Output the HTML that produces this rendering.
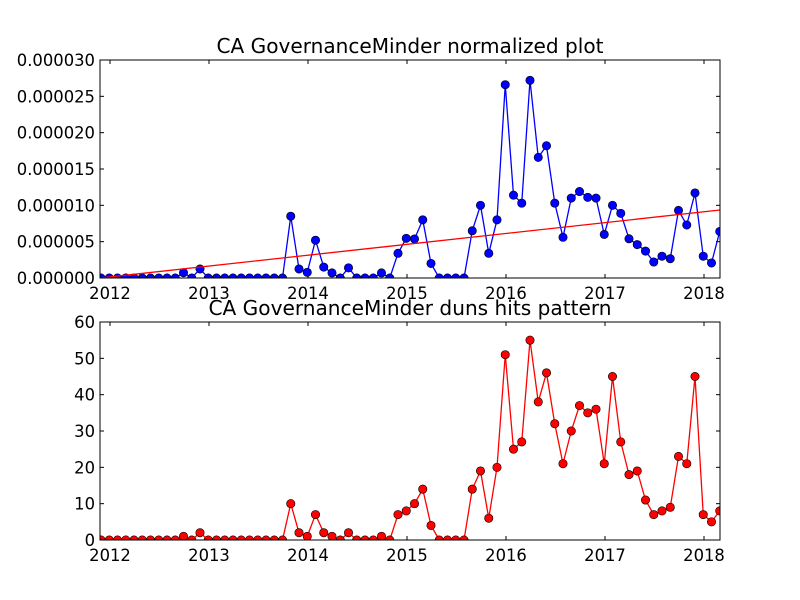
<!DOCTYPE html>
<html><head><meta charset="utf-8"><style>
html,body{margin:0;padding:0;background:#fff;}
svg{display:block;font-family:"DejaVu Sans","Liberation Sans",sans-serif;}
</style></head><body>
<svg id="chart" width="800" height="600" viewBox="0 0 800 600" xmlns="http://www.w3.org/2000/svg">
<rect width="800" height="600" fill="#fff"/>
</svg>
<script>
const yearLabels = ["2012","2013","2014","2015","2016","2017","2018"];
const normTickLabels = ["0.000000","0.000005","0.000010","0.000015","0.000020","0.000025","0.000030"];
const normTickValues = [0,5,10,15,20,25,30];
const hitTickValues = [0,10,20,30,40,50,60];
// normalized values (units of 1e-6), monthly
const normValues = [0,0,0,0,0,0,0,0,0,0,0.73,0,1.24,0,0,0,0,0,0,0,0,0,0,8.5,1.24,0.78,5.2,1.5,0.7,0,1.4,0,0,0,0.7,0,3.4,5.46,5.37,8.0,2.0,0,0,0,0,6.5,10.0,3.4,8.0,26.6,11.4,10.3,27.2,16.6,18.2,10.3,5.6,11.0,11.9,11.1,11.0,6.0,10.0,8.9,5.4,4.6,3.7,2.2,3.0,2.65,9.3,7.3,11.7,3.0,2.07,6.4];
const hitValues = [0,0,0,0,0,0,0,0,0,0,1,0,2,0,0,0,0,0,0,0,0,0,0,10,2,1,7,2,1,0,2,0,0,0,1,0,7,8,10,14,4,0,0,0,0,14,19,6,20,51,25,27,55,38,46,32,21,30,37,35,36,21,45,27,18,19,11,7,8,9,23,21,45,7,5,8];
const trendIntercept = 0.015;
const trendSlope = 0.1245;

const svg = document.getElementById('chart');
const NS = 'http://www.w3.org/2000/svg';
function mk(tag, attrs, parent){const e=document.createElementNS(NS,tag);for(const k in attrs)e.setAttribute(k,attrs[k]);(parent||svg).appendChild(e);return e;}

const L=100,R=720;
const xIdx = i => 101 + i*8.25;
const xYear = k => 110 + k*99;

function panel(top,bottom,ymax,tickVals,tickLabs,title,name,titleW){
  const g=mk('g',{});
  
  
  const y = v => bottom - v/ymax*(bottom-top);
  const t=mk('text',{x:410,y:top-7,'text-anchor':'middle','font-size':'20','textLength':titleW,'lengthAdjust':'spacingAndGlyphs',fill:'#000'},g);
  t.textContent=title;
  
  
  tickVals.forEach((v,k)=>{
    const yy=y(v);
    mk('line',{x1:L,x2:L+4,y1:yy,y2:yy,stroke:'#000','stroke-width':1},g);
    mk('line',{x1:R,x2:R-4,y1:yy,y2:yy,stroke:'#000','stroke-width':1},g);
    const lab=mk('text',{x:L-5,y:yy+6,'text-anchor':'end','font-size':'16.4',fill:'#000'},g);
    lab.textContent=tickLabs[k];
    
    
  });
  yearLabels.forEach((s,k)=>{
    const xx=xYear(k);
    mk('line',{x1:xx,x2:xx,y1:bottom,y2:bottom-4,stroke:'#000','stroke-width':1},g);
    mk('line',{x1:xx,x2:xx,y1:top,y2:top+4,stroke:'#000','stroke-width':1},g);
    const lab=mk('text',{x:xx,y:bottom+21,'text-anchor':'middle','font-size':'16.4',fill:'#000'},g);
    lab.textContent=s;
    
    
  });
  return {g,y};
}

function series(p,vals,color,top,bottom,name){
  const clip='clip-'+name;
  const cp=mk('clipPath',{id:clip},p.g);
  mk('rect',{x:L,y:top,width:R-L,height:bottom-top},cp);
  const sg=mk('g',{'clip-path':'url(#'+clip+')'},p.g);
  const pts=vals.map((v,i)=>xIdx(i)+','+p.y(v)).join(' ');
  const pl=mk('polyline',{points:pts,fill:'none',stroke:color,'stroke-width':1.3},sg);
  
  
  vals.forEach((v,i)=>{
    const c=mk('circle',{cx:xIdx(i),cy:p.y(v),r:4.2,fill:color,stroke:'#000','stroke-width':0.6},sg);
    
    
  });
  return sg;
}

// top panel
const p1=panel(60,278,30,normTickValues,normTickLabels,'CA GovernanceMinder normalized plot','normalized-plot',387);
const sg1=series(p1,normValues,'#0000ff',60,278,'normalized');
const n=normValues.length;
const tr=mk('line',{x1:xIdx(-0.12),y1:p1.y(trendIntercept+trendSlope*(-0.12)),x2:xIdx(n-0.97),y2:p1.y(trendIntercept+trendSlope*(n-0.97)),stroke:'#ff0000','stroke-width':1.3},sg1);


mk('rect',{x:L,y:60,width:R-L,height:218,fill:'none',stroke:'#000','stroke-width':1},p1.g);

// bottom panel
const p2=panel(322,540,60,hitTickValues,hitTickValues.map(String),'CA GovernanceMinder duns hits pattern','hits-plot',403);
series(p2,hitValues,'#ff0000',322,540,'hits');
mk('rect',{x:L,y:322,width:R-L,height:218,fill:'none',stroke:'#000','stroke-width':1},p2.g);
</script>
</body></html>
